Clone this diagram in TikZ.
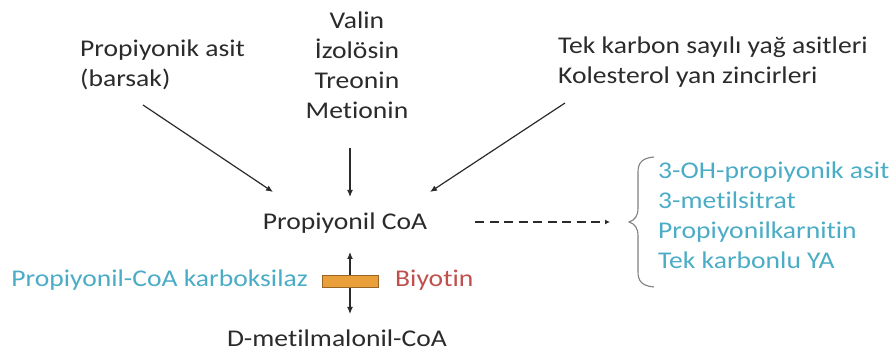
\documentclass[tikz,border=0pt]{standalone}
\usepackage{fontspec}
\setmainfont[Ligatures={NoCommon,NoRequired,NoContextual},FakeStretch=1.15]{Carlito}
\usetikzlibrary{arrows.meta}
\definecolor{ink}{HTML}{2B2B2B}
\definecolor{aqua}{HTML}{4BACC6}
\definecolor{brick}{HTML}{C0504D}
\definecolor{enzfill}{HTML}{E9A03A}
\definecolor{enzline}{HTML}{9A6424}
\definecolor{bracegray}{HTML}{808080}
\tikzset{
  lbl/.style={inner sep=0pt, font=\fontsize{24}{30}\selectfont, text=ink},
  tip/.style={Latex[length=7pt,width=6pt]},
  conn/.style={draw=ink, line width=1.2pt, -{Latex[length=7pt,width=6pt]}},
}
\begin{document}
\begin{tikzpicture}[x=1pt,y=-1pt]
\useasboundingbox (0,0) rectangle (895,352);

% sources
\node[lbl, anchor=west, align=left] (prop) at (80,65) {Propiyonik asit\\(barsak)};
\node[lbl, align=center] (amino) at (357,65) {Valin\\İzolösin\\Treonin\\Metionin};
\node[lbl, anchor=west, align=left] (fatty) at (558,62) {Tek karbon sayılı yağ asitleri\\Kolesterol yan zincirleri};

% central metabolites
\node[lbl] (pcoa) at (345,223) {Propiyonil CoA};
\node[lbl] (mmcoa) at (337,338) {D-metilmalonil-CoA};

% enzyme and cofactor
\node[lbl, text=aqua, anchor=east] (enz) at (308,280) {Propiyonil-CoA karboksilaz};
\node[lbl, text=brick, anchor=west] (biot) at (395,280) {Biyotin};

% alternative products
\node[lbl, text=aqua, anchor=west, align=left] (alts) at (658,215)
  {3-OH-propiyonik asit\\3-metilsitrat\\Propiyonilkarnitin\\Tek karbonlu YA};

% connector end points
\coordinate (s1) at (143,105);
\coordinate (e1) at (273,192);
\coordinate (s2) at (350,148);
\coordinate (e2) at (350,197);
\coordinate (s3) at (565,103);
\coordinate (e3) at (430,192);
\coordinate (r1) at (350,252);
\coordinate (r2) at (350,314);
\coordinate (d1) at (475,222);
\coordinate (d2) at (610,222);

\draw[conn] (s1) -- (e1);
\draw[conn] (s2) -- (e2);
\draw[conn] (s3) -- (e3);
\draw[conn, {Latex[length=7pt,width=6pt]}-{Latex[length=7pt,width=6pt]}] (r1) -- (r2);
\draw[conn, line width=2.4pt, dash pattern=on 9pt off 5.5pt, -{Latex[length=5pt,width=5pt]}] (d1) -- (d2);

% enzyme bar
\node[draw=enzline, fill=enzfill, line width=0.9pt, minimum width=56pt, minimum height=12pt, inner sep=0pt] (bar) at (350,281.5) {};

% brace
\draw[bracegray, line width=1.1pt] (654,157) .. controls (642,158) and (638,163) .. (638,172)
  -- (638,208) .. controls (638,216) and (635,220) .. (629,222)
  .. controls (635,224) and (638,228) .. (638,236)
  -- (638,272) .. controls (638,281) and (642,286) .. (654,287);
\end{tikzpicture}
\end{document}
